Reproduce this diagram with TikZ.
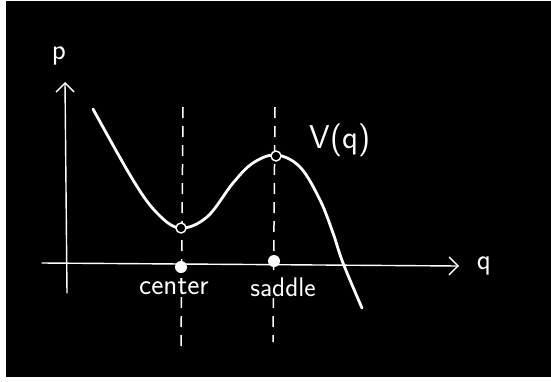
\documentclass[tikz,border=0pt]{standalone}
\usetikzlibrary{arrows.meta}
\begin{document}
\begin{tikzpicture}[x=1pt,y=-1pt,
  axis/.style={white,line width=1.4pt,line cap=round},
  guide/.style={white,line width=1.5pt,dash pattern=on 11pt off 8pt},
  curve/.style={white,line width=2.8pt,line cap=round},
  opendot/.style={circle,draw=white,fill=black,line width=1.4pt,minimum size=10pt,inner sep=0pt},
  soliddot/.style={circle,fill=white,minimum size=12pt,inner sep=0pt},
  lbl/.style={text=white,font=\sffamily\fontsize{29}{31}\selectfont,inner sep=0pt},
  chev/.style={-{Straight Barb[length=9pt,width=18pt,line width=1.4pt]}}]
\useasboundingbox (0,0) rectangle (551,381);
\fill[white] (0,0) rectangle (551,381);
\fill[black] (6,1) rectangle (551,377);
% coordinates
\coordinate (pbot) at (67,293);
\coordinate (ptop) at (65,82);
\coordinate (qleft) at (42,263);
\coordinate (qright) at (459,266);
% guides
\coordinate (c1) at (183,107);
\coordinate (c2) at (181,347);
\coordinate (s1) at (275,107);
\coordinate (s2) at (273,342);
\draw[guide] (c1) -- (c2);
\draw[guide] (s1) -- (s2);
% axes
\draw[axis,chev] (pbot) -- (ptop);
\draw[axis,chev] (qleft) -- (qright);
% curve
\draw[curve] plot[smooth,tension=0.6] coordinates {(93,109) (133,180) (157,213) (180,228) (207,217) (233,183) (253,163) (276,155) (300,167) (320,200) (333,233) (343,263) (362,308)};
% labels (with black background to interrupt dashes)
\node[lbl,fill=black,inner sep=2pt] (lcenter) at (174,287) {center};
\node[lbl,fill=black,inner sep=2pt,font=\sffamily\fontsize{27}{29}\selectfont] (lsaddle) at (283,287) {saddle};
% points
\node[opendot] (cmin) at (181,228) {};
\node[opendot] (smax) at (276,156) {};
\node[soliddot] (cdot) at (181,267) {};
\node[soliddot] (sdot) at (274,261) {};
\node[lbl,font=\sffamily\fontsize{33}{35}\selectfont] (lV) at (340,140) {V(q)};
\node[lbl] (lp) at (59,56) {p};
\node[lbl] (lq) at (484,266) {q};
\end{tikzpicture}
\end{document}
